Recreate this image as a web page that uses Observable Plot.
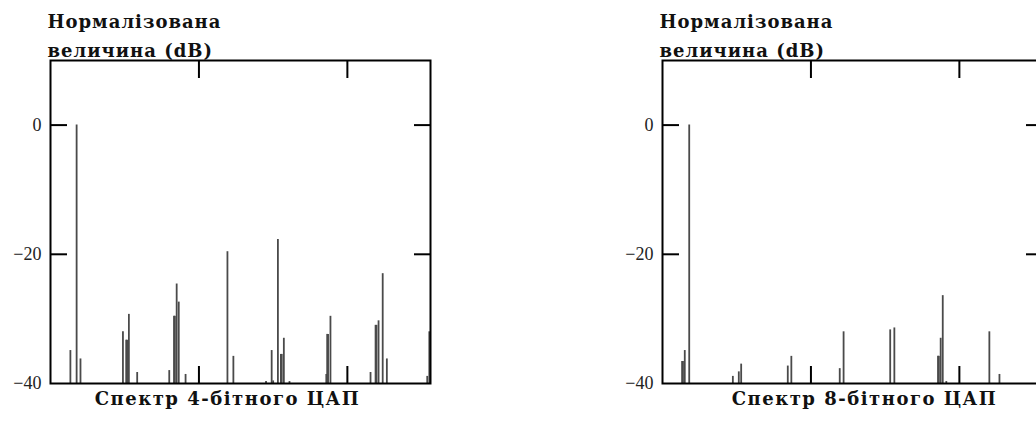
<!DOCTYPE html>
<html><head><meta charset="utf-8">
<script src="https://cdn.jsdelivr.net/npm/d3@7"></script>
<script src="https://cdn.jsdelivr.net/npm/@observablehq/plot@0.6"></script>
<style>
html,body{margin:0;padding:0;background:#fff;overflow:hidden;width:1036px;height:422px;}
#wrap{position:relative;width:1036px;height:422px;overflow:hidden;}
#wrap svg{position:absolute;top:0;}
</style></head><body><div id="wrap"></div>
<script>
// FFT bin index (0..128) and normalized magnitude (dB)
const bins4 = [6.7, 8.8, 10.1, 24.4, 25.5, 25.8, 26.4, 29.2, 40.0, 41.6, 41.9, 42.5, 43.2, 45.5, 59.6, 61.6, 72.6, 74.5, 75.0, 76.6, 77.6, 77.9, 78.6, 80.5, 92.9, 93.2, 93.5, 94.3, 107.8, 109.5, 109.8, 110.5, 111.9, 113.3, 126.9, 127.6];
const db4   = [-34.9, 0, -36.2, -32, -33.3, -33.3, -29.3, -38.3, -38, -29.6, -29.6, -24.6, -27.4, -38.6, -19.6, -35.8, -39.7, -34.9, -39.6, -17.7, -35.5, -35.5, -33, -39.7, -38.6, -32.4, -32.4, -29.6, -38.3, -31, -31, -30.3, -23, -36.2, -38.9, -32];
const bins8 = [6.6, 6.9, 7.5, 9.0, 23.7, 25.7, 26.5, 42.2, 43.4, 59.7, 61.0, 76.7, 78.1, 92.8, 93.1, 93.7, 94.4, 95.6, 110.1, 113.5];
const db8   = [-36.6, -36.6, -34.9, 0, -38.9, -38.2, -37, -37.3, -35.8, -37.7, -32, -31.7, -31.4, -35.8, -35.8, -33, -26.4, -39.7, -32, -38.6];
const yTicks = [-40, -20, 0];
const xTicks = [50, 100];
const xDomain = [0, 128];
const yDomain = [-40, 10];
const yTitle = "Нормалізована\nвеличина (dB)";
const title4 = "Спектр 4-бітного ЦАП";
const title8 = "Спектр 8-бітного ЦАП";

function spectrum(bins, db, title, titleDx) {
  const rows = bins.map((b, i) => ({bin: b, db: db[i]}));
  const svg = Plot.plot({
    width: 440, height: 422,
    marginLeft: 50, marginRight: 10, marginTop: 60, marginBottom: 39,
    style: {background: "white", fontFamily: "Liberation Serif", color: "black"},
    x: {domain: xDomain, axis: null},
    y: {domain: yDomain, axis: null},
    marks: [
      Plot.ruleX(rows, {x: "bin", y1: yDomain[0], y2: "db", stroke: "#4a4a4a", strokeWidth: 1.8}),
      Plot.axisY(yTicks, {anchor: "left", tickSize: 0, tickPadding: 9, fontSize: 18, label: null, fill: "#222"}),
      Plot.axisY(yTicks.filter(d => d > yDomain[0]), {anchor: "left", tickSize: -17, fill: "none", stroke: "black", strokeWidth: 2, label: null}),
      Plot.axisY(yTicks.filter(d => d > yDomain[0]), {anchor: "right", tickSize: -17, fill: "none", stroke: "black", strokeWidth: 2, label: null}),
      Plot.axisX(xTicks, {anchor: "top", tickSize: -17, fill: "none", stroke: "black", strokeWidth: 2, label: null}),
      Plot.axisX(xTicks, {anchor: "bottom", tickSize: -17, fill: "none", stroke: "black", strokeWidth: 2, label: null}),
      Plot.frame({stroke: "black", strokeWidth: 2}),
      Plot.text([yTitle], {text: d => d, frameAnchor: "top-left", textAnchor: "start", lineAnchor: "bottom", dx: -3, dy: -4, fontSize: 18, fontWeight: "bold", fontFamily: "DejaVu Serif", lineHeight: 1.61, fill: "#111"}),
      Plot.text([title], {text: d => d, frameAnchor: "bottom", lineAnchor: "top", dx: titleDx, dy: 9, fontSize: 18, fontWeight: "bold", fontFamily: "DejaVu Serif", fill: "#111"})
    ]
  });
  const textGroups = d3.select(svg).selectAll('g[aria-label="text"]').nodes();
  if (textGroups[0]) d3.select(textGroups[0]).style("letter-spacing", "1px");
  if (textGroups[1]) d3.select(textGroups[1]).style("letter-spacing", "1.5px");
  return svg;
}

const wrap = document.getElementById("wrap");
const a = spectrum(bins4, db4, title4, -13);
a.style.left = "0px";
const b = spectrum(bins8, db8, title8, 12);
b.style.left = "612px";
wrap.append(a, b);
</script></body></html>
